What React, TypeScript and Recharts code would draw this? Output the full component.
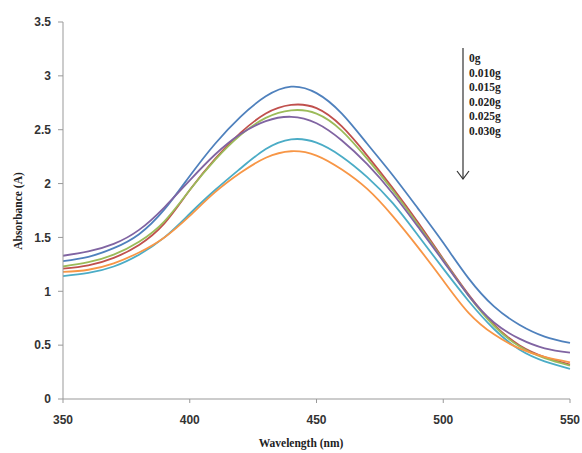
import React from "react";
import { LineChart, Line, XAxis, YAxis } from "recharts";

const wavelengths = [350, 360, 370, 380, 390, 400, 410, 420, 430, 440, 450, 460, 470, 480, 490, 500, 510, 520, 530, 540, 550];

const s0g = [1.28, 1.32, 1.40, 1.53, 1.76, 2.07, 2.37, 2.62, 2.81, 2.90, 2.84, 2.65, 2.37, 2.08, 1.77, 1.45, 1.12, 0.86, 0.69, 0.58, 0.52];
const s010g = [1.21, 1.24, 1.31, 1.43, 1.63, 1.94, 2.23, 2.47, 2.65, 2.73, 2.70, 2.53, 2.26, 1.96, 1.64, 1.30, 0.97, 0.69, 0.50, 0.39, 0.32];
const s015g = [1.23, 1.27, 1.34, 1.46, 1.65, 1.94, 2.22, 2.45, 2.61, 2.68, 2.65, 2.49, 2.23, 1.94, 1.62, 1.29, 0.96, 0.68, 0.49, 0.38, 0.31];
const s020g = [1.33, 1.37, 1.44, 1.57, 1.78, 2.03, 2.27, 2.46, 2.58, 2.62, 2.56, 2.40, 2.18, 1.91, 1.60, 1.28, 0.96, 0.71, 0.56, 0.47, 0.43];
const s025g = [1.14, 1.17, 1.23, 1.34, 1.50, 1.72, 1.94, 2.14, 2.32, 2.41, 2.38, 2.25, 2.06, 1.82, 1.52, 1.21, 0.91, 0.65, 0.46, 0.35, 0.28];
const s030g = [1.18, 1.20, 1.26, 1.36, 1.50, 1.70, 1.92, 2.10, 2.24, 2.30, 2.26, 2.13, 1.95, 1.70, 1.41, 1.10, 0.80, 0.60, 0.47, 0.39, 0.34];

const seriesNames = ["0g", "0.010g", "0.015g", "0.020g", "0.025g", "0.030g"];
const seriesValues = [s0g, s010g, s015g, s020g, s025g, s030g];
const seriesColors = ["#4F81BD", "#C0504D", "#9BBB59", "#8064A2", "#4BACC6", "#F79646"];

const xTicks = [350, 400, 450, 500, 550];
const yTicks = [0, 0.5, 1, 1.5, 2, 2.5, 3, 3.5];

const data = wavelengths.map((w, i) => {
  const row: Record<string, number> = { w };
  seriesNames.forEach((n, k) => {
    row[n] = seriesValues[k][i];
  });
  return row;
});

const tickStyle = {
  fontFamily: "'Liberation Sans', Arial, sans-serif",
  fontSize: 12,
  fontWeight: 700,
  fill: "#333",
};

const serifStyle = {
  fontFamily: "'Liberation Serif', 'Times New Roman', serif",
  fontSize: 11.5,
  fontWeight: 700,
  fill: "#222",
};

export default function App() {
  const W = 582;
  const H = 453;
  return (
    <div style={{ position: "absolute", left: 0, top: 0, width: W, height: H }}>
      <LineChart
        width={W}
        height={H}
        data={data}
        margin={{ top: 22, right: 12, left: 0, bottom: 24 }}
      >
        <XAxis
          dataKey="w"
          type="number"
          domain={[350, 550]}
          ticks={xTicks}
          stroke="#999"
          tickSize={4}
          tickMargin={12}
          height={30}
          tick={tickStyle}
          tickLine={{ stroke: "#999" }}
        />
        <YAxis
          type="number"
          domain={[0, 3.5]}
          ticks={yTicks}
          stroke="#999"
          tickSize={5}
          tickMargin={7}
          width={63}
          tick={tickStyle}
          tickLine={{ stroke: "#999" }}
        />
        {seriesNames.map((n, k) => (
          <Line
            key={n}
            dataKey={n}
            type="natural"
            stroke={seriesColors[k]}
            strokeWidth={1.8}
            dot={false}
            isAnimationActive={false}
          />
        ))}
      </LineChart>
      <svg
        width={W}
        height={H}
        style={{ position: "absolute", left: 0, top: 0, pointerEvents: "none" }}
      >
        <text x={301} y={443} textAnchor="middle" dominantBaseline="central" style={serifStyle}>
          Wavelength (nm)
        </text>
        <text
          x={18}
          y={211}
          textAnchor="middle"
          dominantBaseline="central"
          transform="rotate(-90 18 211)"
          style={serifStyle}
        >
          Absorbance (A)
        </text>
        <line x1={463} y1={48} x2={463} y2={179} stroke="#333" strokeWidth={1.2} />
        <polyline points="457,171 463,179 469,171" fill="none" stroke="#333" strokeWidth={1.2} />
        {seriesNames.map((n, k) => (
          <text key={n} x={469} y={58 + k * 14.6} dominantBaseline="central" style={serifStyle}>
            {n}
          </text>
        ))}
      </svg>
    </div>
  );
}
